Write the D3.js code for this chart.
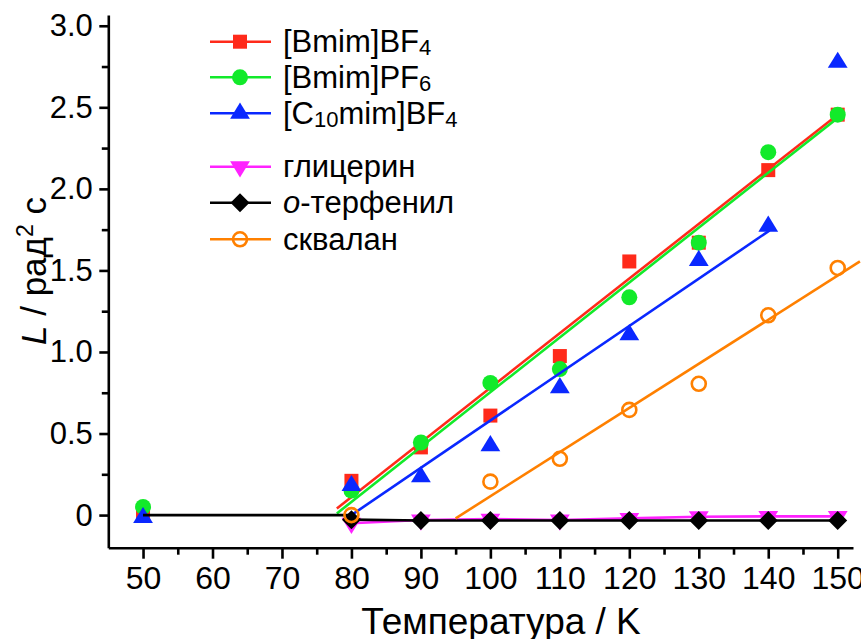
<!DOCTYPE html>
<html><head><meta charset="utf-8">
<script src="https://cdn.jsdelivr.net/npm/d3@7"></script>
<style>
body{margin:0;background:#fff}
svg{display:block}
text{font-family:"Liberation Sans",Arial,Helvetica,sans-serif;fill:#000}
</style>
</head><body>
<svg id="chart" width="861" height="639"></svg>
<script>
// ---------- data ----------
const temps = [50, 80, 90, 100, 110, 120, 130, 140, 150];
const bmimBF4 = [0.0, 0.21, 0.415, 0.61, 0.975, 1.555, 1.67, 2.115, 2.455];
const bmimPF6 = [0.05, 0.15, 0.445, 0.81, 0.895, 1.335, 1.67, 2.225, 2.455];
const c10mimBF4 = [-0.016, 0.18, 0.235, 0.425, 0.78, 1.105, 1.56, 1.77, 2.775];
const glycTemps = [80, 90, 100, 110, 120, 130, 140, 150];
const glycerol = [-0.05, -0.03, -0.025, -0.03, -0.02, -0.01, -0.008, -0.008];
const terphTemps = [80, 90, 100, 110, 120, 130, 140, 150];
const terphenyl = [-0.028, -0.033, -0.033, -0.033, -0.033, -0.033, -0.033, -0.033];
const sqTemps = [80, 100, 110, 120, 130, 140, 150];
const squalane = [0.0, 0.205, 0.345, 0.645, 0.805, 1.225, 1.515];
const zeroLine = [[50, 0], [80, 0]];
const fitBF4 = [[77.9, 0.04], [150, 2.455]];
const fitPF6 = [[77.9, 0.01], [150, 2.435]];
const fitC10 = [[80, 0.0], [140.2, 1.745]];
const fitSq = [[95, -0.02], [153.2, 1.555]];
const xMajor = [50, 60, 70, 80, 90, 100, 110, 120, 130, 140, 150];
const xMinor = [55, 65, 75, 85, 95, 105, 115, 125, 135, 145];
const yMajor = [0, 0.5, 1.0, 1.5, 2.0, 2.5, 3.0];
const yMajorLabels = ["0", "0.5", "1.0", "1.5", "2.0", "2.5", "3.0"];
const yMinor = [0.25, 0.75, 1.25, 1.75, 2.25, 2.75];

const colors = {red:"#ff2a1a", green:"#12ea2a", blue:"#0a28ff", magenta:"#ff22ff", black:"#000000", orange:"#ff8000"};

// ---------- scales ----------
const svg = d3.select("#chart");
const x = d3.scaleLinear().domain([45, 152.2]).range([108.3, 853]);
const y = d3.scaleLinear().domain([-0.2, 3.066]).range([547.7, 15]);

// ---------- axes ----------
const axW = 2.6;
const gx = svg.append("g").attr("transform", `translate(0,${y(-0.2)})`);
gx.call(d3.axisBottom(x).tickValues(xMajor).tickSize(11).tickSizeOuter(0).tickFormat(d3.format("d")));
gx.append("g").call(d3.axisBottom(x).tickValues(xMinor).tickSize(7).tickSizeOuter(0).tickFormat(""))
  .select(".domain").remove();
gx.selectAll("text").attr("y", 18.5).attr("font-size", 32).attr("font-family", '"Liberation Sans",Arial,sans-serif').attr("fill","#000");

const gy = svg.append("g").attr("transform", `translate(${x(45)},0)`);
gy.call(d3.axisLeft(y).tickValues(yMajor).tickSize(9).tickSizeOuter(0).tickFormat((d,i)=>yMajorLabels[i]));
gy.append("g").call(d3.axisLeft(y).tickValues(yMinor).tickSize(6.5).tickSizeOuter(0).tickFormat(""))
  .select(".domain").remove();
gy.selectAll("text").attr("x", -15.5).attr("font-size", 31).attr("font-family", '"Liberation Sans",Arial,sans-serif').attr("fill","#000");

svg.selectAll(".domain").attr("stroke", "#000").attr("stroke-width", axW);
svg.selectAll(".tick line").attr("stroke", "#000").attr("stroke-width", axW);

// ---------- axis titles ----------
svg.append("text").attr("x", 501).attr("y", 634).attr("text-anchor", "middle")
  .attr("font-size", 37).text("Температура / K");

const yt = svg.append("text").attr("transform", "translate(46,271) rotate(-90)")
  .attr("text-anchor", "middle").attr("font-size", 35);
yt.append("tspan").attr("font-style", "italic").text("L");
yt.append("tspan").text(" / рад");
yt.append("tspan").attr("font-size", 23).attr("dy", -13).text("2");
yt.append("tspan").attr("dy", 13).text(" с");

// ---------- markers ----------
function drawMarker(g, type, color) {
  if (type === "square") {
    g.append("rect").attr("x", -7).attr("y", -7).attr("width", 14).attr("height", 14).attr("fill", color);
  } else if (type === "circle") {
    g.append("circle").attr("r", 8).attr("fill", color);
  } else if (type === "triUp") {
    g.append("path").attr("d", "M0,-10.8L9.9,5.4L-9.9,5.4Z").attr("fill", color);
  } else if (type === "triDown") {
    g.append("path").attr("d", "M0,10.8L9.9,-5.4L-9.9,-5.4Z").attr("fill", color);
  } else if (type === "diamond") {
    g.append("path").attr("d", "M0,-9.5L9.5,0L0,9.5L-9.5,0Z").attr("fill", color);
  } else if (type === "openCircle") {
    g.append("circle").attr("r", 7).attr("fill", "none").attr("stroke", color).attr("stroke-width", 2.6);
  }
}

const line = d3.line().x(d => x(d[0])).y(d => y(d[1]));
const plot = svg.append("g");
const LW = 2.6;

function zip(xs, ys) { return xs.map((t, i) => [t, ys[i]]); }

const series = [
  {name:"BF4", pts: zip(temps, bmimBF4), lines:[fitBF4], color: colors.red, marker:"square"},
  {name:"PF6", pts: zip(temps, bmimPF6), lines:[fitPF6], color: colors.green, marker:"circle"},
  {name:"C10", pts: zip(temps, c10mimBF4), lines:[fitC10], color: colors.blue, marker:"triUp"},
  {name:"gly", pts: zip(glycTemps, glycerol), lines:[zip(glycTemps, glycerol)], color: colors.magenta, marker:"triDown"},
  {name:"ter", pts: zip(terphTemps, terphenyl), lines:[zeroLine, zip(terphTemps, terphenyl)], color: colors.black, marker:"diamond"},
  {name:"sq", pts: zip(sqTemps, squalane), lines:[fitSq], color: colors.orange, marker:"openCircle"}
];

series.forEach(s => {
  s.lines.forEach(l => {
    plot.append("path").datum(l).attr("d", line).attr("fill", "none")
      .attr("stroke", s.color).attr("stroke-width", LW);
  });
  s.pts.forEach(p => {
    const g = plot.append("g").attr("transform", `translate(${x(p[0])},${y(p[1])})`);
    drawMarker(g, s.marker, s.color);
  });
});

// ---------- legend ----------
const legendRows = [
  {color: colors.red, marker:"square", y:41.7, parts:[["[Bmim]BF",""],["4","sub"]]},
  {color: colors.green, marker:"circle", y:77.3, parts:[["[Bmim]PF",""],["6","sub"]]},
  {color: colors.blue, marker:"triUp", y:113.3, parts:[["[C",""],["10","sub"],["mim]BF",""],["4","sub"]]},
  {color: colors.magenta, marker:"triDown", y:166.7, parts:[["глицерин",""]]},
  {color: colors.black, marker:"diamond", y:202.7, parts:[["o","it"],["-терфенил",""]]},
  {color: colors.orange, marker:"openCircle", y:239.3, parts:[["сквалан",""]]}
];
const lg = svg.append("g");
legendRows.forEach(r => {
  lg.append("line").attr("x1", 210).attr("x2", 271).attr("y1", r.y).attr("y2", r.y)
    .attr("stroke", r.color).attr("stroke-width", LW);
  const g = lg.append("g").attr("transform", `translate(240,${r.y})`);
  drawMarker(g, r.marker, r.color);
  const t = lg.append("text").attr("x", 283).attr("y", r.y + 10.5).attr("font-size", 31);
  let shifted = false;
  r.parts.forEach(p => {
    const ts = t.append("tspan").text(p[0]);
    if (p[1] === "sub") {
      ts.attr("font-size", 22).attr("dy", shifted ? 0 : 3);
      shifted = true;
    } else {
      if (shifted) { ts.attr("dy", -3); shifted = false; }
      if (p[1] === "it") ts.attr("font-style", "italic");
    }
  });
});
</script>
</body></html>
